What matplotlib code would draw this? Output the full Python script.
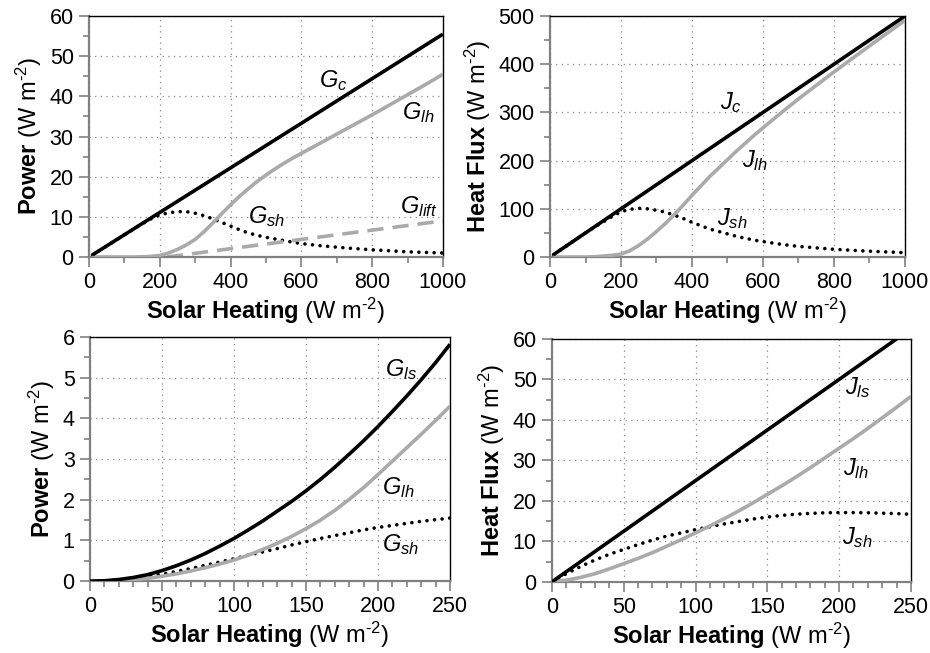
import numpy as np
import matplotlib
matplotlib.use("Agg")
import matplotlib.pyplot as plt
from matplotlib.ticker import MultipleLocator

plt.rcParams["font.family"] = ["Liberation Sans", "DejaVu Sans"]
plt.rcParams["mathtext.fontset"] = "custom"
plt.rcParams["mathtext.rm"] = "Liberation Sans"
plt.rcParams["mathtext.it"] = "Liberation Sans:italic"
plt.rcParams["mathtext.bf"] = "Liberation Sans:bold"

BLACK, GREY, SPINE = "#000000", "#aaaaaa", "#808080"

# ---- panel 1: power, 0-1000 W m-2
p1_x_c = [10, 1000]
p1_gc = [0.55, 55.5]
p1_x = [10, 100, 125, 150, 175, 200, 225, 250, 275, 300, 325, 350, 375, 400, 425, 450, 475,
        500, 525, 550, 575, 600, 650, 700, 750, 800, 850, 900, 950, 1000]
p1_glh = [0, 0, 0, 0.05, 0.15, 0.4, 1.0, 1.9, 3.0, 4.4, 6.3, 8.5, 10.8, 13.0, 15.1, 17.0, 18.8,
          20.4, 21.9, 23.3, 24.6, 25.8, 28.2, 30.6, 33.0, 35.4, 37.9, 40.4, 42.9, 45.5]
p1_gsh = [0.55, 5.5, 6.9, 8.25, 9.5, 10.5, 11.0, 11.3, 11.3, 10.9, 10.3, 9.5, 8.6, 7.7, 6.8, 6.0, 5.4,
          4.9, 4.5, 4.1, 3.7, 3.35, 2.85, 2.45, 2.1, 1.8, 1.55, 1.3, 1.15, 1.0]
p1_x_lift = [220, 1000]
p1_glift = [0, 9.0]

# ---- panel 2: heat flux, 0-1000 W m-2
p2_x_c = [10, 1000]
p2_jc = [5, 500]
p2_x = [10, 100, 125, 150, 175, 200, 225, 250, 275, 300, 325, 350, 375, 400, 425, 450, 475,
        500, 525, 550, 575, 600, 650, 700, 750, 800, 850, 900, 950, 1000]
p2_jlh = [0, 0, 0.5, 2, 3.5, 6, 13, 24, 37.5, 53, 69.5, 88, 107.5, 128, 147.5, 167, 184.5,
          202, 219.5, 236, 252.5, 268, 298.5, 328, 356, 384, 411, 438, 464.5, 491]
p2_jsh = [5, 50, 62, 73, 84, 94, 99, 101, 100, 97, 93, 87, 80, 72, 65, 58, 53,
          48, 43, 39, 35, 32, 26.5, 22, 19, 16, 14, 12, 10.5, 9]

# ---- panel 3: power, 0-250 W m-2
p3_x = [0, 10, 20, 30, 40, 50, 60, 70, 80, 90, 100, 110, 120, 130, 140, 150, 160, 170, 180,
        190, 200, 210, 220, 230, 240, 250]
p3_gls = [0, 0.01, 0.04, 0.09, 0.16, 0.26, 0.38, 0.52, 0.68, 0.86, 1.05, 1.26, 1.48, 1.72, 1.96,
          2.22, 2.5, 2.8, 3.12, 3.45, 3.8, 4.17, 4.55, 4.95, 5.37, 5.82]
p3_glh = [0, 0, 0.01, 0.03, 0.07, 0.12, 0.18, 0.25, 0.33, 0.42, 0.52, 0.64, 0.78, 0.93, 1.1,
          1.29, 1.5, 1.74, 2.01, 2.3, 2.62, 2.95, 3.28, 3.61, 3.95, 4.3]
p3_gsh = [0, 0.01, 0.03, 0.07, 0.12, 0.17, 0.24, 0.31, 0.39, 0.47, 0.55, 0.64, 0.72, 0.8, 0.89,
          0.97, 1.05, 1.12, 1.19, 1.26, 1.32, 1.37, 1.42, 1.47, 1.51, 1.55]

# ---- panel 4: heat flux, 0-250 W m-2
p4_x_ls = [0, 250]
p4_jls = [0, 62.5]
p4_x = [0, 10, 20, 30, 40, 50, 60, 70, 80, 90, 100, 110, 120, 130, 140, 150, 160, 170, 180,
        190, 200, 210, 220, 230, 240, 250]
p4_jlh = [0, 0.4, 1.1, 2.0, 3.2, 4.5, 5.8, 7.2, 8.8, 10.4, 12.1, 13.8, 15.6, 17.5, 19.5,
          21.6, 23.7, 25.9, 28.2, 30.6, 33.0, 35.4, 37.9, 40.5, 43.1, 45.8]
p4_jsh = [0, 2.0, 3.8, 5.4, 6.8, 8.0, 9.2, 10.3, 11.3, 12.1, 12.9, 13.6, 14.3, 14.9, 15.5,
          16.0, 16.4, 16.7, 16.9, 17.05, 17.1, 17.1, 17.05, 16.95, 16.85, 16.7]

XLAB = r"$\mathbf{Solar\ Heating}$ (W m$^{\text{-2}}$)"
YPOW = r"$\mathbf{Power}$ (W m$^{\text{-2}}$)"
YFLX = r"$\mathbf{Heat\ Flux}$ (W m$^{\text{-2}}$)"

solid = dict(color=BLACK, lw=2.6, solid_capstyle="butt", zorder=4)
grey = dict(color=GREY, lw=2.6, solid_capstyle="butt", zorder=3)
dots = dict(color=BLACK, lw=2.6, ls=(0, (0.01, 2.1)), dash_capstyle="round", zorder=2)
dash = dict(color=GREY, lw=2.6, ls=(0, (4.5, 2.5)), dash_capstyle="butt", zorder=2)


def style(a, xmax, xmaj, xmin, ymax, ymaj, ymin, ylab):
    a.set_xlim(0, xmax); a.set_ylim(0, ymax)
    a.xaxis.set_major_locator(MultipleLocator(xmaj)); a.xaxis.set_minor_locator(MultipleLocator(xmin))
    a.yaxis.set_major_locator(MultipleLocator(ymaj)); a.yaxis.set_minor_locator(MultipleLocator(ymin))
    a.grid(True, which="major", color="#888888", lw=0.9, ls=(0, (1, 3.5)))
    a.tick_params(which="both", direction="out", color=SPINE, width=1.2, labelsize=15.5,
                  top=False, right=False, pad=4)
    a.tick_params(which="major", length=7)
    a.tick_params(which="minor", length=4)
    for s in ("left", "bottom"):
        a.spines[s].set_color(SPINE); a.spines[s].set_linewidth(1.6)
    for s in ("top", "right"):
        a.spines[s].set_color(BLACK); a.spines[s].set_linewidth(1.0)
    a.set_xlabel(XLAB, fontsize=17, labelpad=2)
    a.set_ylabel(ylab, fontsize=17, labelpad=4)


def lab(a, x, y, t):
    a.text(x, y, t, fontsize=17, ha="left", va="center", zorder=5)


fig = plt.figure(figsize=(9.3, 6.53), dpi=100)
ax1 = fig.add_axes([0.0957, 0.6064, 0.3806, 0.3691])
ax2 = fig.add_axes([0.5914, 0.6064, 0.3817, 0.3691])
ax3 = fig.add_axes([0.0968, 0.1100, 0.3871, 0.3740])
ax4 = fig.add_axes([0.5935, 0.1090, 0.3860, 0.3720])

ax1.plot(p1_x_c, p1_gc, **solid)
ax1.plot(p1_x, p1_glh, **grey)
ax1.plot(p1_x, p1_gsh, **dots)
ax1.plot(p1_x_lift, p1_glift, **dash)
style(ax1, 1000, 200, 100, 60, 10, 5, YPOW)
lab(ax1, 650, 44, r"$G_{c}$")
lab(ax1, 885, 36, r"$G_{lh}$")
lab(ax1, 880, 12.5, r"$G_{lift}$")
lab(ax1, 450, 10, r"$G_{sh}$")

ax2.plot(p2_x_c, p2_jc, **solid)
ax2.plot(p2_x, p2_jlh, **grey)
ax2.plot(p2_x, p2_jsh, **dots)
style(ax2, 1000, 200, 100, 500, 100, 50, YFLX)
lab(ax2, 480, 320, r"$J_{c}$")
lab(ax2, 540, 200, r"$J_{lh}$")
lab(ax2, 470, 80, r"$J_{sh}$")

ax3.plot(p3_x, p3_gls, **solid)
ax3.plot(p3_x, p3_glh, **grey)
ax3.plot(p3_x, p3_gsh, **dots)
style(ax3, 250, 50, 10, 6, 1, 0.5, YPOW)
lab(ax3, 205, 5.2, r"$G_{ls}$")
lab(ax3, 203, 2.3, r"$G_{lh}$")
lab(ax3, 203, 0.9, r"$G_{sh}$")

ax4.plot(p4_x_ls, p4_jls, **solid)
ax4.plot(p4_x, p4_jlh, **grey)
ax4.plot(p4_x, p4_jsh, **dots)
style(ax4, 250, 50, 10, 60, 10, 5, YFLX)
lab(ax4, 204, 48, r"$J_{ls}$")
lab(ax4, 203, 28, r"$J_{lh}$")
lab(ax4, 202, 11, r"$J_{sh}$")

fig.savefig("out.png", dpi=100)
